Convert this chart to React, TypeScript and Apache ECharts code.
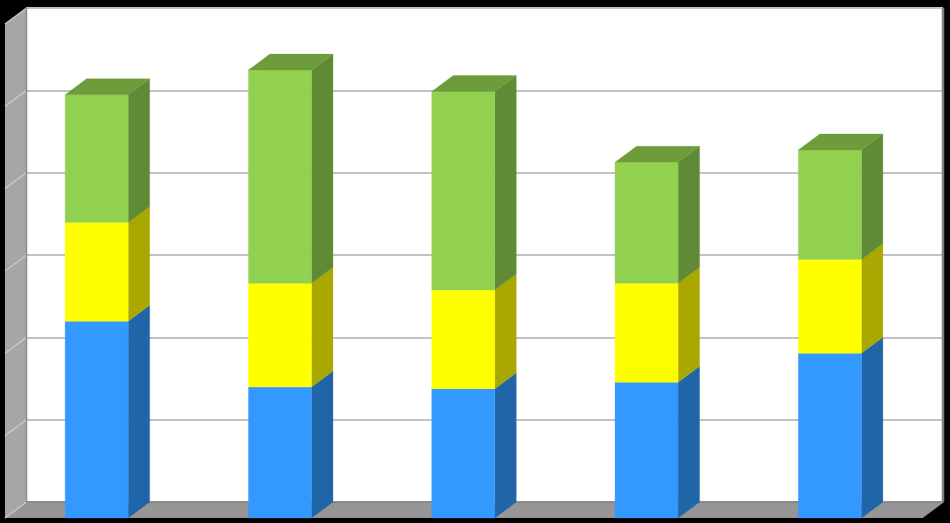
import React, { useEffect, useRef } from "react";
import * as echarts from "echarts";

const categories = ["1", "2", "3", "4", "5"];
const blueValues = [2.39, 1.59, 1.57, 1.65, 2.0];
const yellowValues = [1.2, 1.26, 1.2, 1.2, 1.14];
const greenValues = [1.55, 2.59, 2.41, 1.47, 1.33];
const yTicks = [0, 1, 2, 3, 4, 5, 6];

const DX = -21.5;
const DY = 16;
const BAR_RATIO = 0.344;

const stackRows = (vals: number[], below: number[][]) =>
  vals.map((v, i) => {
    const base = below.reduce((s, a) => s + a[i], 0);
    return [i, base, base + v];
  });

const barSeries = (
  name: string,
  rows: number[][],
  face: string,
  side: string,
  top: string | null,
  z: number
) => ({
  type: "custom",
  name,
  z,
  data: rows,
  encode: { x: 0, y: [1, 2] },
  renderItem: (_: any, api: any) => {
    const [cx, y0] = api.coord([api.value(0), api.value(1)]);
    const [, y1] = api.coord([api.value(0), api.value(2)]);
    const w = api.size([1, 0])[0] * BAR_RATIO;
    const l = cx - w / 2;
    const r = cx + w / 2;
    const poly = (points: number[][], fill: string) => ({
      type: "polygon",
      shape: { points },
      style: { fill, stroke: fill, lineWidth: 0.3 },
    });
    const children: any[] = [
      poly([[r, y1], [r, y0], [r + DX, y0 + DY], [r + DX, y1 + DY]], side),
      poly([[l + DX, y1 + DY], [r + DX, y1 + DY], [r + DX, y0 + DY], [l + DX, y0 + DY]], face),
    ];
    if (top) {
      children.push(poly([[l, y1], [r, y1], [r + DX, y1 + DY], [l + DX, y1 + DY]], top));
    }
    return { type: "group", children };
  },
});

const wallSeries = {
  type: "custom",
  name: "walls",
  z: 2,
  data: [[0, 0]],
  encode: { x: 0, y: 1 },
  renderItem: (params: any, api: any) => {
    const yMin = yTicks[0];
    const yMax = yTicks[yTicks.length - 1];
    const cs = params.coordSys;
    const x0 = cs.x;
    const x1 = cs.x + cs.width;
    const yb = api.coord([0, yMin])[1];
    const yt = api.coord([0, yMax])[1];
    const line = (a: number[], b: number[], stroke: string, lineWidth: number) => ({
      type: "line",
      shape: { x1: a[0], y1: a[1], x2: b[0], y2: b[1] },
      style: { stroke, lineWidth },
    });
    const children: any[] = [
      {
        type: "polygon",
        shape: { points: [[x0, yt], [x0, yb], [x0 + DX, yb + DY], [x0 + DX, yt + DY]] },
        style: { fill: "#a6a6a6" },
      },
      {
        type: "polygon",
        shape: { points: [[x0, yb], [x1, yb], [x1 + DX, yb + DY], [x0 + DX, yb + DY]] },
        style: { fill: "#969696" },
      },
    ];
    yTicks.forEach((t) => {
      const y = api.coord([0, t])[1];
      children.push(line([x0, y], [x0 + DX, y + DY], "#c6c6c6", 1.5));
    });
    children.push(line([x0, yt], [x1, yt], "#c4c4c4", 2));
    children.push(line([x0, yt], [x0, yb], "#8c8c8c", 1.5));
    children.push(line([x1, yt], [x1, yb], "#808080", 2.5));
    children.push(line([x0, yb], [x1, yb], "#808080", 1.5));
    children.push(line([x1, yb], [x1 + DX, yb + DY], "#969696", 1.5));
    return { type: "group", children };
  },
};

const option = {
  animation: false,
  backgroundColor: "#000000",
  grid: { left: 26.5, right: 7, top: 8, bottom: 21, backgroundColor: "#ffffff", show: true, borderWidth: 0 },
  xAxis: {
    type: "category",
    data: categories,
    axisLine: { show: false },
    axisTick: { show: false },
    axisLabel: { show: false },
  },
  yAxis: {
    type: "value",
    min: yTicks[0],
    max: yTicks[yTicks.length - 1],
    interval: 1,
    axisLine: { show: false },
    axisTick: { show: false },
    axisLabel: { show: false },
    splitLine: { show: true, lineStyle: { color: "#c2c2c2", width: 2 } },
  },
  tooltip: { show: false },
  series: [
    wallSeries,
    barSeries("Blue", stackRows(blueValues, []), "#3399ff", "#2065a8", null, 3),
    barSeries("Yellow", stackRows(yellowValues, [blueValues]), "#ffff00", "#a8a800", null, 4),
    barSeries("Green", stackRows(greenValues, [blueValues, yellowValues]), "#92d050", "#608a35", "#6f9c3b", 5),
  ],
};

export default function App() {
  const ref = useRef<HTMLDivElement>(null);
  useEffect(() => {
    document.body.style.margin = "0";
    document.body.style.background = "#000";
    const chart = echarts.init(ref.current!, undefined, { renderer: "svg" });
    chart.setOption(option as any);
    return () => {
      chart.dispose();
      document.body.style.margin = "";
      document.body.style.background = "";
    };
  }, []);
  return <div ref={ref} style={{ width: 950, height: 523, background: "#000" }} />;
}
